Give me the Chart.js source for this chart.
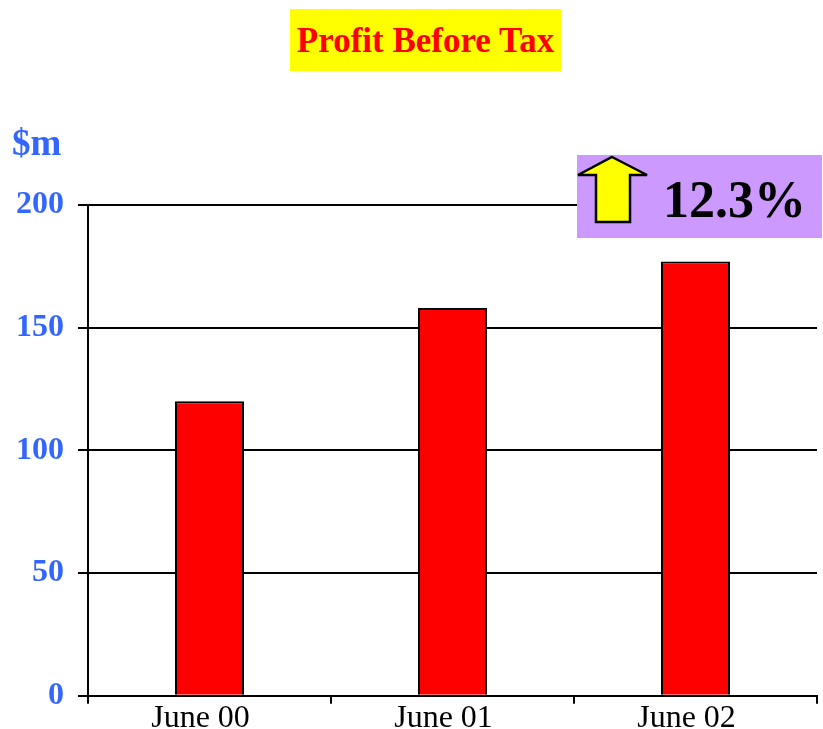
<!DOCTYPE html>
<html>
<head>
<meta charset="utf-8">
<script src="https://cdn.jsdelivr.net/npm/chart.js@4/dist/chart.umd.min.js"></script>
<style>
  html, body { margin:0; padding:0; background:#fff; overflow:hidden; }
  #wrap { position:relative; width:823px; height:729px; }
  canvas { position:absolute; left:0; top:0; }
  .t { position:absolute; font-family:"Liberation Serif","Times New Roman",serif; font-weight:bold; line-height:1; white-space:nowrap; }
</style>
</head>
<body>
<div id="wrap">
  <canvas id="c" width="823" height="729"></canvas>
  <div style="position:absolute;left:290px;top:9px;width:271px;height:62px;background:#FFFF00;"></div>
  <div class="t" style="left:290px;width:271px;text-align:center;top:23px;font-size:35px;color:#FF0000;">Profit Before Tax</div>
  <div class="t" style="left:12px;top:124px;font-size:37px;color:#3366FF;">$m</div>
  <div style="position:absolute;left:577px;top:155px;width:245px;height:83px;background:#CC99FF;"></div>
  <svg style="position:absolute;left:0;top:0;" width="823" height="729">
    <polygon points="612,157 647,175 630,175 630,222 596,222 596,175 578,175" fill="#FFFF00" stroke="#000" stroke-width="2.5" stroke-linejoin="miter"/>
  </svg>
  <div class="t" style="left:663px;top:174px;font-size:52px;color:#000;">12.3%</div>
</div>
<script>
const categories = ["June 00", "June 01", "June 02"];
const profitValues = [120, 158, 177];
const yTicks = [0, 50, 100, 150, 200];

new Chart(document.getElementById('c'), {
  type: 'bar',
  data: {
    labels: categories,
    datasets: [{
      data: profitValues,
      backgroundColor: '#FF0000',
      borderColor: '#000000',
      borderWidth: 2,
      barPercentage: 0.284,
      categoryPercentage: 1.0
    }]
  },
  options: {
    responsive: false,
    animation: false,
    layout: { padding: { top: 205, right: 6, bottom: 0, left: 0 } },
    plugins: { legend: { display: false }, tooltip: { enabled: false }, title: { display: false } },
    scales: {
      x: {
        offset: true,
        grid: { display: true, drawOnChartArea: false, drawTicks: true, tickLength: 8, color: '#000', lineWidth: 2, offset: true },
        border: { display: true, color: '#000', width: 2 },
        ticks: { color: '#000', font: { family: 'Liberation Serif', size: 32 }, padding: -4, labelOffset: -9, maxRotation: 0, autoSkip: false },
        afterFit: s => { s.height = 32; }
      },
      y: {
        min: 0, max: 200,
        afterBuildTicks: s => { s.ticks = yTicks.map(v => ({ value: v })); },
        grid: { color: '#000', lineWidth: 2, tickLength: 10, drawTicks: true },
        border: { display: true, color: '#000', width: 2 },
        ticks: { color: '#3366FF', font: { family: 'Liberation Serif', size: 32, weight: 'bold' }, padding: 14 },
        afterFit: s => { s.width = 88; }
      }
    }
  }
});
</script>
</body>
</html>
